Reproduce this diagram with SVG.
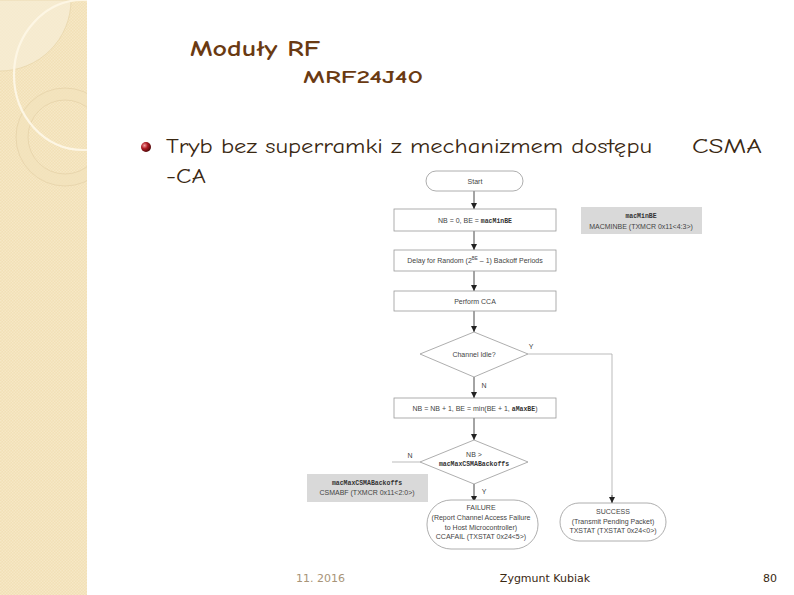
<svg xmlns="http://www.w3.org/2000/svg" width="794" height="595" viewBox="0 0 794 595">
<defs>
  <pattern id="chk" width="3" height="3" patternUnits="userSpaceOnUse">
    <rect width="3" height="3" fill="#f2e0b6"/>
    <rect width="1.5" height="1.5" fill="#f6e8c6"/>
    <rect x="1.5" y="1.5" width="1.5" height="1.5" fill="#f6e8c6"/>
  </pattern>
  <clipPath id="stripClip"><rect x="0" y="0" width="87" height="595"/></clipPath>
  <radialGradient id="ball" cx="0.35" cy="0.35" r="0.7">
    <stop offset="0" stop-color="#f4a0a0"/>
    <stop offset="0.45" stop-color="#b01c24"/>
    <stop offset="1" stop-color="#4a0608"/>
  </radialGradient>
  <marker id="ah" viewBox="0 0 10 10" refX="10" refY="5" markerWidth="6" markerHeight="6" markerUnits="userSpaceOnUse" orient="auto">
    <path d="M0,0 L10,5 L0,10 z" fill="#222"/>
  </marker>
</defs>
<style>
  .fc { font-family: "Liberation Sans", Arial, sans-serif; font-size: 7px; fill: #444; text-anchor: middle; }
  .mono { font-family: "Liberation Mono", "Courier New", monospace; font-weight: bold; font-size: 6.5px; fill: #333; }
  .box { fill: #fff; stroke: #999; stroke-width: 0.8; }
  .note { fill: #d9d9d9; stroke: none; }
  .conn { stroke: #333; stroke-width: 0.9; fill: none; }
  .thin { stroke: #aaa; stroke-width: 0.8; fill: none; }
  .title { font-family: "Comic Neue", "DejaVu Sans", sans-serif; fill: #6a3a12; font-weight: bold; }
  .body { font-family: "Comic Neue", "DejaVu Sans", sans-serif; fill: #3a2812; font-size: 21px; }
  .foot { font-family: "DejaVu Sans", sans-serif; font-size: 11px; }
</style>

<rect width="794" height="595" fill="#ffffff"/>

<!-- decorative left strip -->
<g id="strip" clip-path="url(#stripClip)">
  <rect x="0" y="0" width="87" height="595" fill="url(#chk)"/>
  <path d="M0,0 H71 A71,71 0 0 1 0,71 Z" fill="#f6ecd4" opacity="0.8"/>
  <path d="M0,0 H71 A71,71 0 0 1 0,71" fill="none" stroke="#e6d4a8" stroke-width="0.7"/>
  <circle cx="65" cy="137" r="43" fill="none" stroke="#f2e2bc" stroke-width="12" opacity="0.7"/>
  <circle cx="65" cy="137" r="49" fill="none" stroke="#e0cda2" stroke-width="0.6"/>
  <circle cx="65" cy="137" r="37" fill="none" stroke="#e0cda2" stroke-width="0.6"/>
  <ellipse cx="83" cy="75" rx="69" ry="75" fill="none" stroke="#fdf6e4" stroke-width="2.2"/>
</g>

<!-- titles -->
<text class="title" x="190" y="56" font-size="22" textLength="130" lengthAdjust="spacingAndGlyphs">Moduły RF</text>
<text class="title" x="303" y="83" font-size="19" textLength="120" lengthAdjust="spacingAndGlyphs">MRF24J40</text>

<!-- bullet text -->
<circle cx="146" cy="147" r="5" fill="url(#ball)"/>
<text class="body" x="166" y="153" textLength="486" lengthAdjust="spacingAndGlyphs">Tryb bez superramki z mechanizmem dostępu</text>
<text class="body" x="692" y="153" textLength="70" lengthAdjust="spacingAndGlyphs">CSMA</text>
<text class="body" x="166" y="183" textLength="40" lengthAdjust="spacingAndGlyphs">-CA</text>

<!-- connectors -->
<g id="connectors">
  <line class="conn" x1="474" y1="191" x2="474" y2="209" marker-end="url(#ah)"/>
  <line class="conn" x1="474" y1="231" x2="474" y2="250" marker-end="url(#ah)"/>
  <line class="conn" x1="474" y1="271" x2="474" y2="291" marker-end="url(#ah)"/>
  <line class="conn" x1="474" y1="311" x2="474" y2="332" marker-end="url(#ah)"/>
  <line class="conn" x1="474" y1="377" x2="474" y2="398" marker-end="url(#ah)"/>
  <line class="conn" x1="474" y1="418" x2="474" y2="440" marker-end="url(#ah)"/>
  <line class="conn" x1="474" y1="484" x2="474" y2="502" marker-end="url(#ah)"/>
  <path class="thin" d="M528,354 H612 V503" />
  <line class="conn" x1="612" y1="495" x2="612" y2="503" marker-end="url(#ah)"/>
  <line class="thin" x1="420" y1="462" x2="392" y2="462"/>
  <text class="fc" x="531" y="349">Y</text>
  <text class="fc" x="484" y="388">N</text>
  <text class="fc" x="410" y="458">N</text>
  <text class="fc" x="484" y="494">Y</text>
</g>

<!-- nodes -->
<g id="start">
  <rect x="426" y="171" width="97" height="20" rx="10" class="box"/>
  <text class="fc" x="475" y="183.5">Start</text>
</g>
<g id="init">
  <rect x="394" y="209" width="162" height="22" class="box"/>
  <text class="fc" x="475" y="222.5">NB = 0, BE = <tspan class="mono">macMinBE</tspan></text>
</g>
<g id="delay">
  <rect x="394" y="250" width="162" height="21" class="box"/>
  <text class="fc" x="475" y="263">Delay for Random (2<tspan font-size="4.5" dy="-3">BE</tspan><tspan dy="3"> – 1) Backoff Periods</tspan></text>
</g>
<g id="cca">
  <rect x="394" y="291" width="162" height="20" class="box"/>
  <text class="fc" x="475" y="303.5">Perform CCA</text>
</g>
<g id="idle">
  <polygon points="474,332 528,354 474,377 420,354" class="box"/>
  <text class="fc" x="474" y="357">Channel Idle?</text>
</g>
<g id="inc">
  <rect x="394" y="398" width="162" height="20" class="box"/>
  <text class="fc" x="475" y="410.5">NB = NB + 1, BE = min(BE + 1, <tspan class="mono">aMaxBE</tspan>)</text>
</g>
<g id="check">
  <polygon points="474,440 528,462 474,484 420,462" class="box"/>
  <text class="fc" x="474" y="457">NB &gt;</text>
  <text class="mono" x="474" y="466" text-anchor="middle">macMaxCSMABackoffs</text>
</g>
<g id="failure">
  <rect x="427" y="500" width="111" height="49" rx="24" class="box"/>
  <text class="fc" x="481" y="510">FAILURE</text>
  <text class="fc" x="481" y="520">(Report Channel Access Failure</text>
  <text class="fc" x="481" y="529.5">to Host Microcontroller)</text>
  <text class="fc" x="481" y="539">CCAFAIL (TXSTAT 0x24&lt;5&gt;)</text>
</g>
<g id="success">
  <rect x="560" y="503" width="106" height="38" rx="19" class="box"/>
  <text class="fc" x="613" y="514">SUCCESS</text>
  <text class="fc" x="613" y="523.5">(Transmit Pending Packet)</text>
  <text class="fc" x="613" y="533">TXSTAT (TXSTAT 0x24&lt;0&gt;)</text>
</g>
<g id="note-minbe">
  <rect x="581" y="207" width="121" height="27" class="note"/>
  <text class="mono" x="641" y="218" text-anchor="middle">macMinBE</text>
  <text class="fc" x="641" y="228.5">MACMINBE (TXMCR 0x11&lt;4:3&gt;)</text>
</g>
<g id="note-maxcsma">
  <rect x="307" y="474" width="121" height="28" class="note"/>
  <text class="mono" x="367" y="485" text-anchor="middle">macMaxCSMABackoffs</text>
  <text class="fc" x="367" y="495">CSMABF (TXMCR 0x11&lt;2:0&gt;)</text>
</g>

<!-- footer -->
<text class="foot" x="296" y="582" fill="#a89478">11. 2016</text>
<text class="foot" x="545" y="582" fill="#3a2812" text-anchor="middle">Zygmunt Kubiak</text>
<text class="foot" x="777" y="582" fill="#3a2812" font-size="13" text-anchor="end">80</text>
</svg>
